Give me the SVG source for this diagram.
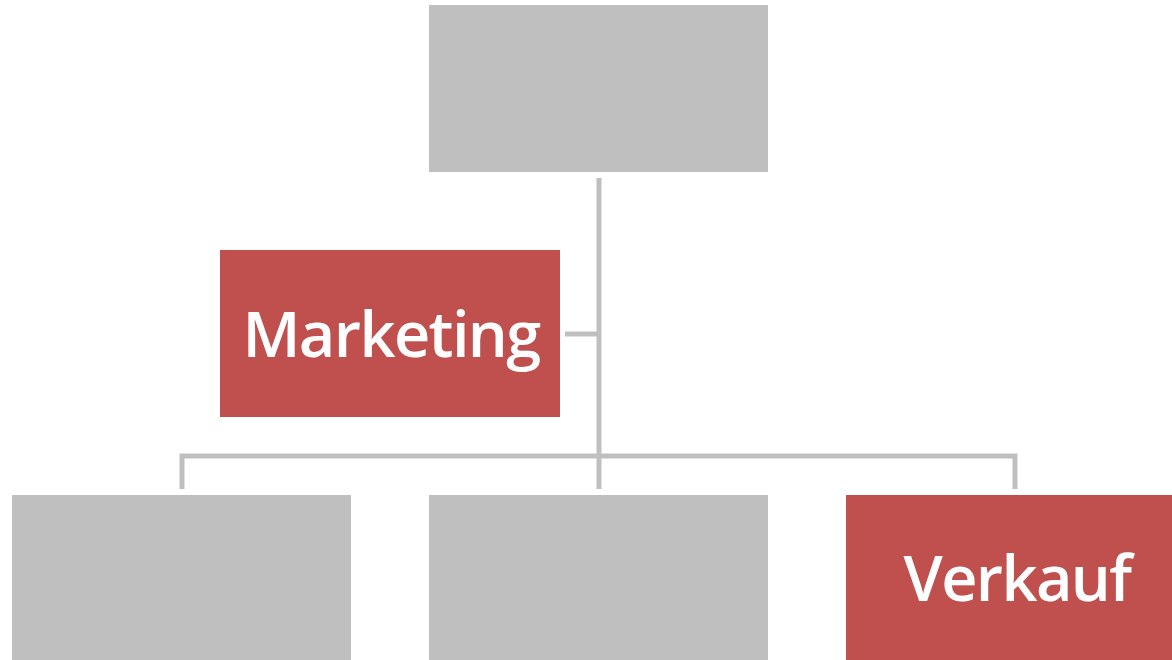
<svg xmlns="http://www.w3.org/2000/svg" width="1172" height="660" viewBox="0 0 1172 660">
<style>
.g{fill:#BFBFBF}
.r{fill:#C0504D}
.c{fill:none;stroke:#BFBFBF;stroke-width:5}
.t{fill:#FFFFFF;font-family:"Open Sans","Noto Sans",sans-serif;font-weight:600;font-size:63px;letter-spacing:-1.6px;text-anchor:middle}
</style>
<rect width="1172" height="660" fill="#FFFFFF"/>
<g id="connectors">
<path class="c" d="M599 178 V489"/>
<path class="c" d="M565 334 H599"/>
<path class="c" d="M182 489 V456 H1015 V489"/>
</g>
<g id="top"><rect class="g" x="429" y="5" width="339" height="167"/></g>
<g id="marketing"><rect class="r" x="220" y="250" width="340" height="167"/><text class="t" x="391" y="357">Marketing</text></g>
<g id="bottom-left"><rect class="g" x="12" y="495" width="339" height="165"/></g>
<g id="bottom-mid"><rect class="g" x="429" y="495" width="339" height="165"/></g>
<g id="verkauf"><rect class="r" x="846" y="495" width="340" height="165"/><text class="t" x="1017" y="601">Verkauf</text></g>
</svg>
